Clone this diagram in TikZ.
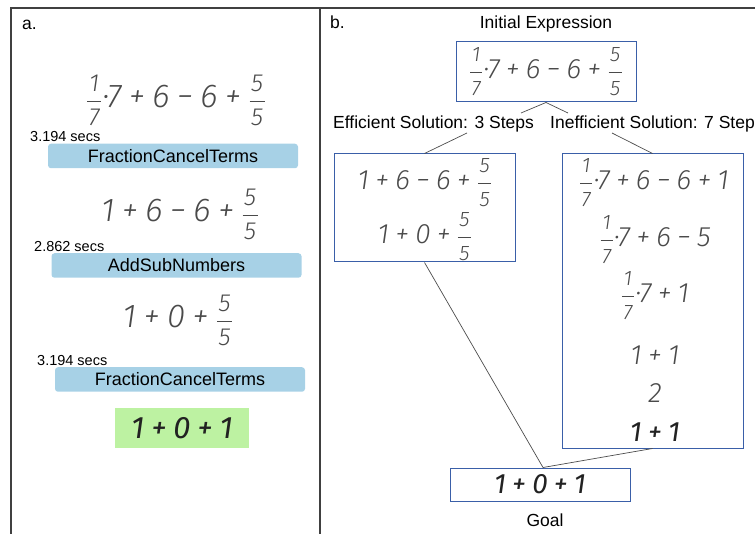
\documentclass[tikz,border=0pt]{standalone}
\usepackage{amsmath}
\usepackage{fontspec}
\setmainfont{Liberation Sans}
\newfontfamily\hand{Fira Sans Light}
\newfontfamily\handd{Fira Sans}
\usepackage{xcolor}
\definecolor{penfill}{HTML}{A7D1E6}
\definecolor{goalfill}{HTML}{BDF2A2}
\definecolor{boxblue}{HTML}{3A5FA8}
\definecolor{ink}{HTML}{4A4A4A}
\definecolor{darkink}{HTML}{222222}
\usetikzlibrary{positioning,calc}
\newcommand\hx{\hand\itshape}
\newcommand\hxd{\handd\itshape}
\makeatletter
\newcommand\frsz{\fontsize{\fpeval{0.75*\f@size}}{\fpeval{0.75*\f@size}}\selectfont}
\newcommand\fr[2]{$\dfrac{\kern1.5pt\text{\hx\frsz #1}\kern1.5pt}{\kern1.5pt\text{\hx\frsz #2}\kern1.5pt}$}
\makeatother
\newcommand\op[1]{\:#1\:}
\tikzset{
  frame/.style={draw=black!75, line width=1.4pt},
  lbl/.style={font=\fontsize{17.5}{19}\selectfont, inner sep=0pt},
  secs/.style={font=\fontsize{14.5}{16}\selectfont, anchor=west, inner sep=0pt},
  rule/.style={fill=penfill, rounded corners=3pt, minimum width=250pt,
               minimum height=24.5pt, font=\fontsize{18}{20}\selectfont, inner sep=0pt},
  bigex/.style={font=\fontsize{33}{36}\selectfont\hx, text=ink, inner sep=0pt},
  ex/.style={font=\fontsize{28}{31}\selectfont\hx, text=ink, inner sep=0pt},
  bbox/.style={draw=boxblue, line width=1pt, inner sep=0pt},
  ln/.style={draw=black!70, line width=0.7pt},
}

\begin{document}
\begin{tikzpicture}[x=1pt, y=-1pt]
  \useasboundingbox (0,0) rectangle (755,534);
  \clip (0,0) rectangle (755,534);
  % panel frame
  \draw[frame] (11,534) -- (11,8) -- (760,8);
  \draw[frame] (320,8) -- (320,534);

  % ---- a. ----
  \node[lbl, anchor=west] (pa) at (22,25) {a.};
  \node[bigex] (la) at (176,100) {\fr17·7\op+6\op−6\op+\fr55};
  \node[secs] (t1) at (30,137) {3.194 secs};
  \node[rule] (r1) at (173,156) {FractionCancelTerms};
  \node[bigex] (lb) at (180,214) {1\op+6\op−6\op+\fr55};
  \node[secs] (t2) at (34,247) {2.862 secs};
  \node[rule] (r2) at (176.5,265.5) {AddSubNumbers};
  \node[bigex] (lc) at (178,320) {1\op+0\op+\fr55};
  \node[secs] (t3) at (37,361) {3.194 secs};
  \node[rule] (r3) at (180,379.5) {FractionCancelTerms};
  \node[fill=goalfill, minimum width=134pt, minimum height=40pt, inner sep=0pt,
        font=\fontsize{31}{34}\selectfont\hxd, text=darkink] (ld) at (182,428) {1\op+0\op+1};

  % ---- b. ----
  \node[lbl, anchor=west] (pb) at (330,22) {b.};
  \node[lbl] (ini) at (546,24) {Initial Expression};
  \node[bbox, minimum width=180pt, minimum height=60pt] (init) at (546,72) {};
  \node[ex] at (init) {\fr17·7\op+6\op−6\op+\fr55};
  \node[lbl, anchor=west] (eff) at (333,124) {Efficient Solution: 3 Steps};
  \node[lbl, anchor=west] (ineff) at (550,124) {Inefficient Solution: 7 Steps};
  \coordinate (effa) at (521,113);
  \coordinate (ineffa) at (568,113);
  \coordinate (effb) at (467,133);
  \coordinate (ineffb) at (612,133);

  \node[bbox, minimum width=181pt, minimum height=108pt] (effbox) at (424.5,208) {};
  \node[ex] (e1) at (425,183) {1\op+6\op−6\op+\fr55};
  \node[ex] (e2) at (425,237) {1\op+0\op+\fr55};

  \node[bbox, minimum width=181pt, minimum height=294pt] (inbox) at (652.5,301) {};
  \node[ex] (i1) at (654,183) {\fr17·7\op+6\op−6\op+1};
  \node[ex] (i2) at (655,240) {\fr17·7\op+6\op−5};
  \node[ex] (i3) at (655,296) {\fr17·7\op+1};
  \node[ex] (i4) at (655,355) {1\op+1};
  \node[ex] (i5) at (655,393) {2};
  \node[ex, font=\fontsize{28}{31}\selectfont\hxd, text=darkink] (i6) at (655,432) {1\op+1};

  \node[bbox, minimum width=180pt, minimum height=33pt] (goal) at (540,484.5) {};
  \node[ex, font=\fontsize{28}{31}\selectfont\hxd, text=darkink] at (goal) {1\op+0\op+1};
  \node[lbl] (gl) at (545,520) {Goal};

  \draw[ln] (init.south) -- (effa);
  \draw[ln] (init.south) -- (ineffa);
  \draw[ln] (effb) -- (effbox.north);
  \draw[ln] (ineffb) -- (inbox.north);
  \draw[ln] (effbox.south) -- ($(goal.north)+(3,0)$);
  \draw[ln] (inbox.south) -- ($(goal.north)+(3,0)$);
\end{tikzpicture}
\end{document}
